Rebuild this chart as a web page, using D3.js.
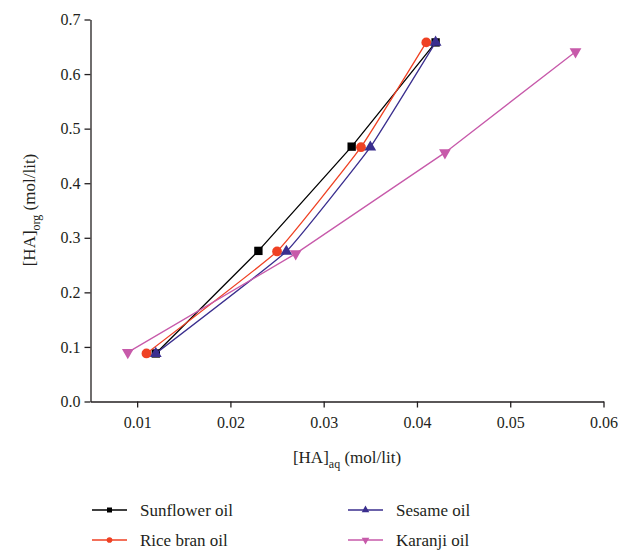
<!DOCTYPE html>
<html>
<head>
    <title>[HA]org vs [HA]aq</title>
    <script src="https://d3js.org/d3.v7.min.js"></script>
    <style>
        body { margin: 0; background: #fff; }
    </style>
</head>
<body>
    <svg id="chart" width="633" height="552" style="font-family: 'Liberation Serif', 'DejaVu Serif', serif;"></svg>
    <script>
        // values
        const seriesNames = ["Sunflower oil", "Rice bran oil", "Sesame oil", "Karanji oil"];
        const sunflowerX = [0.012, 0.023, 0.033, 0.042];
        const sunflowerY = [0.088, 0.276, 0.467, 0.658];
        const riceBranX = [0.011, 0.025, 0.034, 0.041];
        const riceBranY = [0.088, 0.275, 0.466, 0.658];
        const sesameX = [0.012, 0.026, 0.035, 0.042];
        const sesameY = [0.088, 0.275, 0.466, 0.658];
        const karanjiX = [0.009, 0.027, 0.043, 0.057];
        const karanjiY = [0.090, 0.271, 0.456, 0.641];
        const xTicks = [0.01, 0.02, 0.03, 0.04, 0.05, 0.06];
        const yTicks = [0.0, 0.1, 0.2, 0.3, 0.4, 0.5, 0.6, 0.7];

        const FONT = "'Liberation Serif', 'DejaVu Serif', serif";
        const ink = "#231f20";
        const colors = ["#000000", "#ef4123", "#3a2e8e", "#c75aaa"];
        const symbols = [d3.symbolSquare, d3.symbolCircle, d3.symbolTriangle, d3.symbolTriangle];
        const flips = [false, false, false, true];
        const softCurve = d3.curveCardinal.tension(0.7);
        const curves = [d3.curveLinear, softCurve, softCurve, d3.curveLinear];
        const markerSizes = [70, 75, 60, 60];

        const series = [
            [sunflowerX, sunflowerY], [riceBranX, riceBranY],
            [sesameX, sesameY], [karanjiX, karanjiY]
        ].map(([xs, ys], i) => ({
            name: seriesNames[i],
            points: xs.map((x, j) => ({ x, y: ys[j] }))
        }));

        const svg = d3.select("#chart");
        const x = d3.scaleLinear().domain([0.005, 0.06]).range([90.5, 603.5]);
        const y = d3.scaleLinear().domain([0, 0.7]).range([401.5, 19.5]);

        const gx = svg.append("g").attr("transform", "translate(0,401.5)")
            .call(d3.axisBottom(x).tickValues(xTicks).tickFormat(d3.format(".2f")).tickSize(6).tickSizeOuter(0));
        gx.selectAll(".tick text").attr("y", 15);
        const gy = svg.append("g").attr("transform", "translate(90.5,0)")
            .call(d3.axisLeft(y).tickValues(yTicks).tickFormat(d3.format(".1f")).tickSize(6).tickSizeOuter(0));
        gy.selectAll(".tick text").attr("x", -10);

        svg.selectAll("g").attr("font-family", FONT);
        svg.selectAll(".domain, .tick line").attr("stroke", ink).attr("stroke-width", 1.3);
        svg.selectAll(".tick text").attr("font-size", 16).attr("fill", ink);

        // axis titles
        const xt = svg.append("text").attr("x", 347).attr("y", 463).attr("text-anchor", "middle")
            .attr("font-family", FONT).attr("font-size", 17).attr("fill", ink);
        xt.append("tspan").text("[HA]");
        xt.append("tspan").attr("dy", 5).attr("font-size", 12).text("aq");
        xt.append("tspan").attr("dy", -5).text(" (mol/lit)");

        const yt = svg.append("text").attr("transform", "translate(35,210) rotate(-90)")
            .attr("text-anchor", "middle").attr("font-family", FONT).attr("font-size", 17).attr("fill", ink);
        yt.append("tspan").text("[HA]");
        yt.append("tspan").attr("dy", 5).attr("font-size", 12).text("org");
        yt.append("tspan").attr("dy", -5).text(" (mol/lit)");

        series.forEach((s, i) => {
            const line = d3.line().x(d => x(d.x)).y(d => y(d.y)).curve(curves[i]);
            svg.append("path").datum(s.points).attr("d", line)
                .attr("fill", "none").attr("stroke", colors[i]).attr("stroke-width", 1.3);
            svg.append("g").selectAll("path").data(s.points).join("path")
                .attr("d", d3.symbol().type(symbols[i]).size(markerSizes[i]))
                .attr("transform", d => `translate(${x(d.x)},${y(d.y)})${flips[i] ? " rotate(180)" : ""}`)
                .attr("fill", colors[i]);
        });

        // legend
        const legendPos = [[92, 510], [92, 540], [348, 510], [348, 540]];
        series.forEach((s, i) => {
            const [lx, ly] = legendPos[i];
            const g = svg.append("g").attr("transform", `translate(${lx},${ly})`);
            g.append("line").attr("x1", 0).attr("x2", 35).attr("y1", 0).attr("y2", 0)
                .attr("stroke", colors[i]).attr("stroke-width", 1.3);
            g.append("path").attr("d", d3.symbol().type(symbols[i]).size(25))
                .attr("transform", `translate(17.5,0)${flips[i] ? " rotate(180)" : ""}`)
                .attr("fill", colors[i]);
            g.append("text").attr("x", 48).attr("y", 6).attr("font-family", FONT)
                .attr("font-size", 17).attr("fill", ink).text(s.name);
        });
    </script>
</body>
</html>
